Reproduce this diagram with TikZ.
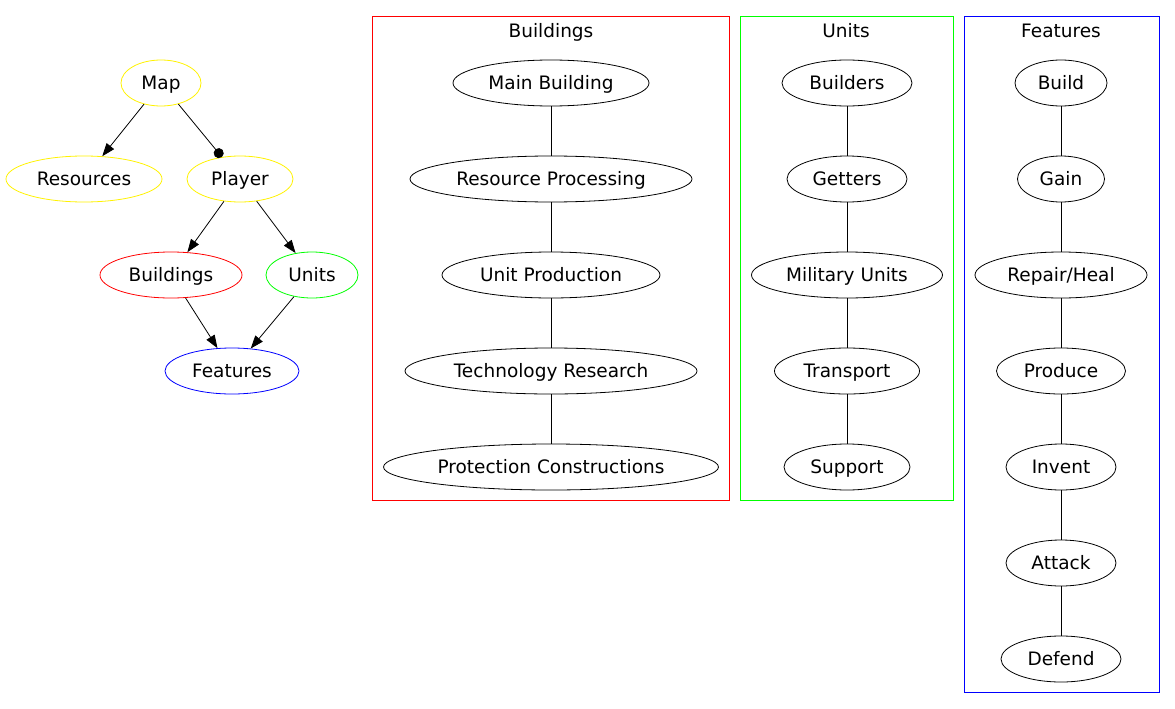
\documentclass[tikz,border=0pt]{standalone}
\usepackage{fontspec}
\setmainfont{DejaVu Sans}
\usetikzlibrary{shapes.geometric,arrows.meta}
\tikzset{
  oval/.style={ellipse, draw, line width=0.8pt, minimum height=46pt, inner sep=0pt, text height=15pt, text depth=2pt, font=\fontsize{18.5}{20}\selectfont},
  link/.style={line width=0.8pt},
  arr/.style={line width=0.8pt, -{Triangle[length=13pt,width=9.5pt]}},
  lbl/.style={inner sep=0pt, text height=15pt, text depth=2pt, font=\fontsize{18.5}{20}\selectfont}
}
\begin{document}
\begin{tikzpicture}[x=1pt, y=-1pt]
	\useasboundingbox (0,0) rectangle (1175,709);
	% overview
	\node[oval, draw=yellow, minimum width=80pt] (map) at (161,83) {Map};
	\node[oval, draw=yellow, minimum width=156pt] (res) at (84,179) {Resources};
	\node[oval, draw=yellow, minimum width=106pt] (player) at (240,179) {Player};
	\node[oval, draw=red, minimum width=142pt] (bld) at (171,275) {Buildings};
	\node[oval, draw=green, minimum width=92pt] (unt) at (312,275) {Units};
	\node[oval, draw=blue, minimum width=134pt] (feat) at (232,371) {Features};
	\draw[arr] (map) -- (res);
	\draw[link, -{Circle[length=10pt]}] (map) -- (player);
	\draw[arr] (player) -- (bld);
	\draw[arr] (player) -- (unt);
	\draw[arr] (bld) -- (feat);
	\draw[arr] (unt) -- (feat);
	% cluster Buildings
	\draw[line width=0.8pt, red] (372,16) rectangle (729,500);
	\node[lbl] (tbld) at (551,31) {Buildings};
	\node[oval, minimum width=196pt] (mainbld) at (551,83) {Main Building};
	\node[oval, minimum width=282pt] (resproc) at (551,179) {Resource Processing};
	\node[oval, minimum width=218pt] (unitprod) at (551,275) {Unit Production};
	\node[oval, minimum width=292pt] (techres) at (551,371) {Technology Research};
	\node[oval, minimum width=335pt] (protcon) at (551,467) {Protection Constructions};
	\draw[link] (mainbld) -- (resproc) -- (unitprod) -- (techres) -- (protcon);
	% cluster Units
	\draw[line width=0.8pt, green] (740,16) rectangle (953,500);
	\node[lbl] (tunt) at (846,31) {Units};
	\node[oval, minimum width=130pt] (builders) at (847,83) {Builders};
	\node[oval, minimum width=120pt] (getters) at (847,179) {Getters};
	\node[oval, minimum width=191pt] (military) at (847,275) {Military Units};
	\node[oval, minimum width=145pt] (transport) at (847,371) {Transport};
	\node[oval, minimum width=126pt] (support) at (847,467) {Support};
	\draw[link] (builders) -- (getters) -- (military) -- (transport) -- (support);
	% cluster Features
	\draw[line width=0.8pt, blue] (964,16) rectangle (1159,692);
	\node[lbl] (tfeat) at (1061,31) {Features};
	\node[oval, minimum width=92pt] (build) at (1061,83) {Build};
	\node[oval, minimum width=87pt] (gain) at (1061,179) {Gain};
	\node[oval, minimum width=172pt] (repair) at (1061,275) {Repair/Heal};
	\node[oval, minimum width=129pt] (produce) at (1061,371) {Produce};
	\node[oval, minimum width=110pt] (invent) at (1061,467) {Invent};
	\node[oval, minimum width=110pt] (attack) at (1061,563) {Attack};
	\node[oval, minimum width=120pt] (defend) at (1061,659) {Defend};
	\draw[link] (build) -- (gain) -- (repair) -- (produce) -- (invent) -- (attack) -- (defend);
\end{tikzpicture}
\end{document}
